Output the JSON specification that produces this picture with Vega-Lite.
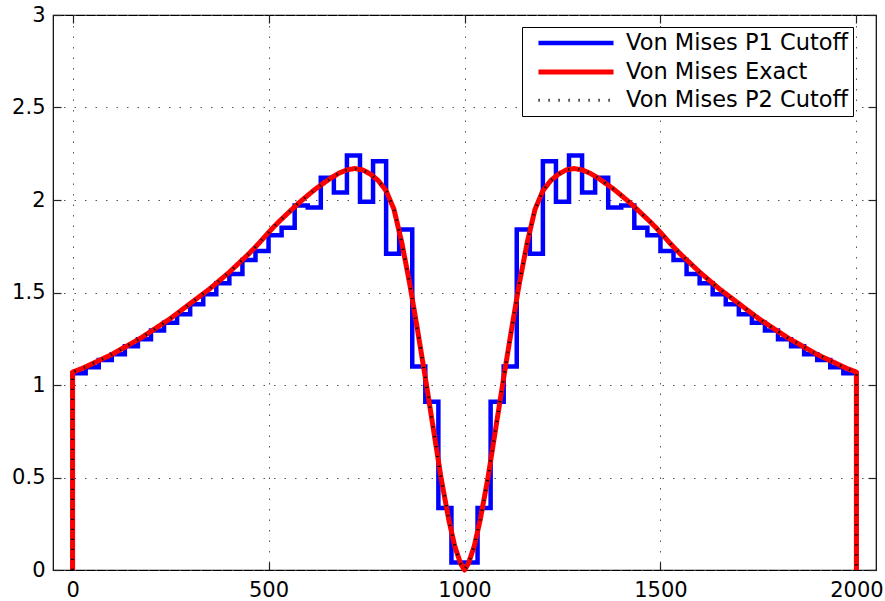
{
  "$schema": "https://vega.github.io/schema/vega-lite/v6.json",
  "width": 823,
  "height": 555,
  "autosize": {"type": "none"},
  "padding": {"left": 53, "top": 15, "right": 9, "bottom": 31},
  "background": "white",
  "config": {
    "view": {"stroke": "black", "strokeWidth": 1.2},
    "font": "DejaVu Sans",
    "axis": {
      "labelFont": "DejaVu Sans",
      "labelFontSize": 21,
      "labelColor": "black",
      "tickColor": "#222",
      "tickSize": -8,
      "tickWidth": 1.2,
      "domain": false,
      "gridColor": "#555",
      "gridDash": [1.5, 9],
      "gridWidth": 1,
      "gridOpacity": 1,
      "title": null
    },
    "legend": {
      "orient": "none",
      "legendX": 469,
      "legendY": 12,
      "strokeColor": "black",
      "fillColor": "white",
      "padding": 4,
      "symbolType": "M-4,0H4",
      "symbolSize": 352,
      "symbolOffset": 38,
      "labelFontSize": 22.5,
      "labelFont": "DejaVu Sans",
      "labelColor": "black",
      "labelOffset": 38,
      "labelLimit": 400,
      "rowPadding": 5
    }
  },
  "datasets": {
    "p1": [
      {"i": 0, "x": 0, "v": 0, "series": "Von Mises P1 Cutoff"},
      {"i": 1, "x": 0, "v": 1.063, "series": "Von Mises P1 Cutoff"},
      {"i": 2, "x": 33.33, "v": 1.096, "series": "Von Mises P1 Cutoff"},
      {"i": 3, "x": 66.67, "v": 1.135, "series": "Von Mises P1 Cutoff"},
      {"i": 4, "x": 100, "v": 1.166, "series": "Von Mises P1 Cutoff"},
      {"i": 5, "x": 133.33, "v": 1.21, "series": "Von Mises P1 Cutoff"},
      {"i": 6, "x": 166.67, "v": 1.247, "series": "Von Mises P1 Cutoff"},
      {"i": 7, "x": 200, "v": 1.294, "series": "Von Mises P1 Cutoff"},
      {"i": 8, "x": 233.33, "v": 1.337, "series": "Von Mises P1 Cutoff"},
      {"i": 9, "x": 266.67, "v": 1.382, "series": "Von Mises P1 Cutoff"},
      {"i": 10, "x": 300, "v": 1.436, "series": "Von Mises P1 Cutoff"},
      {"i": 11, "x": 333.33, "v": 1.49, "series": "Von Mises P1 Cutoff"},
      {"i": 12, "x": 366.67, "v": 1.55, "series": "Von Mises P1 Cutoff"},
      {"i": 13, "x": 400, "v": 1.6, "series": "Von Mises P1 Cutoff"},
      {"i": 14, "x": 433.33, "v": 1.676, "series": "Von Mises P1 Cutoff"},
      {"i": 15, "x": 466.67, "v": 1.724, "series": "Von Mises P1 Cutoff"},
      {"i": 16, "x": 500, "v": 1.81, "series": "Von Mises P1 Cutoff"},
      {"i": 17, "x": 533.33, "v": 1.85, "series": "Von Mises P1 Cutoff"},
      {"i": 18, "x": 566.67, "v": 1.97, "series": "Von Mises P1 Cutoff"},
      {"i": 19, "x": 600, "v": 1.96, "series": "Von Mises P1 Cutoff"},
      {"i": 20, "x": 633.33, "v": 2.12, "series": "Von Mises P1 Cutoff"},
      {"i": 21, "x": 666.67, "v": 2.04, "series": "Von Mises P1 Cutoff"},
      {"i": 22, "x": 700, "v": 2.24, "series": "Von Mises P1 Cutoff"},
      {"i": 23, "x": 733.33, "v": 1.99, "series": "Von Mises P1 Cutoff"},
      {"i": 24, "x": 766.67, "v": 2.21, "series": "Von Mises P1 Cutoff"},
      {"i": 25, "x": 800, "v": 1.71, "series": "Von Mises P1 Cutoff"},
      {"i": 26, "x": 833.33, "v": 1.84, "series": "Von Mises P1 Cutoff"},
      {"i": 27, "x": 866.67, "v": 1.1, "series": "Von Mises P1 Cutoff"},
      {"i": 28, "x": 900, "v": 0.91, "series": "Von Mises P1 Cutoff"},
      {"i": 29, "x": 933.33, "v": 0.335, "series": "Von Mises P1 Cutoff"},
      {"i": 30, "x": 966.67, "v": 0.04, "series": "Von Mises P1 Cutoff"},
      {"i": 31, "x": 1000, "v": 0.04, "series": "Von Mises P1 Cutoff"},
      {"i": 32, "x": 1033.33, "v": 0.335, "series": "Von Mises P1 Cutoff"},
      {"i": 33, "x": 1066.67, "v": 0.91, "series": "Von Mises P1 Cutoff"},
      {"i": 34, "x": 1100, "v": 1.1, "series": "Von Mises P1 Cutoff"},
      {"i": 35, "x": 1133.33, "v": 1.84, "series": "Von Mises P1 Cutoff"},
      {"i": 36, "x": 1166.67, "v": 1.71, "series": "Von Mises P1 Cutoff"},
      {"i": 37, "x": 1200, "v": 2.21, "series": "Von Mises P1 Cutoff"},
      {"i": 38, "x": 1233.33, "v": 1.99, "series": "Von Mises P1 Cutoff"},
      {"i": 39, "x": 1266.67, "v": 2.24, "series": "Von Mises P1 Cutoff"},
      {"i": 40, "x": 1300, "v": 2.04, "series": "Von Mises P1 Cutoff"},
      {"i": 41, "x": 1333.33, "v": 2.12, "series": "Von Mises P1 Cutoff"},
      {"i": 42, "x": 1366.67, "v": 1.96, "series": "Von Mises P1 Cutoff"},
      {"i": 43, "x": 1400, "v": 1.97, "series": "Von Mises P1 Cutoff"},
      {"i": 44, "x": 1433.33, "v": 1.85, "series": "Von Mises P1 Cutoff"},
      {"i": 45, "x": 1466.67, "v": 1.81, "series": "Von Mises P1 Cutoff"},
      {"i": 46, "x": 1500, "v": 1.724, "series": "Von Mises P1 Cutoff"},
      {"i": 47, "x": 1533.33, "v": 1.676, "series": "Von Mises P1 Cutoff"},
      {"i": 48, "x": 1566.67, "v": 1.6, "series": "Von Mises P1 Cutoff"},
      {"i": 49, "x": 1600, "v": 1.55, "series": "Von Mises P1 Cutoff"},
      {"i": 50, "x": 1633.33, "v": 1.49, "series": "Von Mises P1 Cutoff"},
      {"i": 51, "x": 1666.67, "v": 1.436, "series": "Von Mises P1 Cutoff"},
      {"i": 52, "x": 1700, "v": 1.382, "series": "Von Mises P1 Cutoff"},
      {"i": 53, "x": 1733.33, "v": 1.337, "series": "Von Mises P1 Cutoff"},
      {"i": 54, "x": 1766.67, "v": 1.294, "series": "Von Mises P1 Cutoff"},
      {"i": 55, "x": 1800, "v": 1.247, "series": "Von Mises P1 Cutoff"},
      {"i": 56, "x": 1833.33, "v": 1.21, "series": "Von Mises P1 Cutoff"},
      {"i": 57, "x": 1866.67, "v": 1.166, "series": "Von Mises P1 Cutoff"},
      {"i": 58, "x": 1900, "v": 1.135, "series": "Von Mises P1 Cutoff"},
      {"i": 59, "x": 1933.33, "v": 1.096, "series": "Von Mises P1 Cutoff"},
      {"i": 60, "x": 1966.67, "v": 1.063, "series": "Von Mises P1 Cutoff"},
      {"i": 61, "x": 2000, "v": 1.063, "series": "Von Mises P1 Cutoff"},
      {"i": 62, "x": 2000, "v": 0, "series": "Von Mises P1 Cutoff"}
    ],
    "exact": [
      {"i": 0, "x": 0, "Von Mises Exact": 0, "Von Mises P2 Cutoff": 0},
      {"i": 1, "x": 0, "Von Mises Exact": 1.07, "Von Mises P2 Cutoff": 1.07},
      {"i": 2, "x": 25, "Von Mises Exact": 1.09, "Von Mises P2 Cutoff": 1.09},
      {"i": 3, "x": 50, "Von Mises Exact": 1.115, "Von Mises P2 Cutoff": 1.115},
      {"i": 4, "x": 75, "Von Mises Exact": 1.14, "Von Mises P2 Cutoff": 1.14},
      {"i": 5, "x": 100, "Von Mises Exact": 1.165, "Von Mises P2 Cutoff": 1.165},
      {"i": 6, "x": 125, "Von Mises Exact": 1.195, "Von Mises P2 Cutoff": 1.195},
      {"i": 7, "x": 150, "Von Mises Exact": 1.225, "Von Mises P2 Cutoff": 1.225},
      {"i": 8, "x": 175, "Von Mises Exact": 1.255, "Von Mises P2 Cutoff": 1.255},
      {"i": 9, "x": 200, "Von Mises Exact": 1.29, "Von Mises P2 Cutoff": 1.29},
      {"i": 10, "x": 225, "Von Mises Exact": 1.325, "Von Mises P2 Cutoff": 1.325},
      {"i": 11, "x": 250, "Von Mises Exact": 1.36, "Von Mises P2 Cutoff": 1.36},
      {"i": 12, "x": 275, "Von Mises Exact": 1.4, "Von Mises P2 Cutoff": 1.4},
      {"i": 13, "x": 300, "Von Mises Exact": 1.44, "Von Mises P2 Cutoff": 1.44},
      {"i": 14, "x": 325, "Von Mises Exact": 1.48, "Von Mises P2 Cutoff": 1.48},
      {"i": 15, "x": 350, "Von Mises Exact": 1.52, "Von Mises P2 Cutoff": 1.52},
      {"i": 16, "x": 375, "Von Mises Exact": 1.565, "Von Mises P2 Cutoff": 1.565},
      {"i": 17, "x": 400, "Von Mises Exact": 1.61, "Von Mises P2 Cutoff": 1.61},
      {"i": 18, "x": 425, "Von Mises Exact": 1.66, "Von Mises P2 Cutoff": 1.66},
      {"i": 19, "x": 450, "Von Mises Exact": 1.71, "Von Mises P2 Cutoff": 1.71},
      {"i": 20, "x": 475, "Von Mises Exact": 1.765, "Von Mises P2 Cutoff": 1.765},
      {"i": 21, "x": 500, "Von Mises Exact": 1.825, "Von Mises P2 Cutoff": 1.825},
      {"i": 22, "x": 525, "Von Mises Exact": 1.88, "Von Mises P2 Cutoff": 1.88},
      {"i": 23, "x": 550, "Von Mises Exact": 1.93, "Von Mises P2 Cutoff": 1.93},
      {"i": 24, "x": 575, "Von Mises Exact": 1.98, "Von Mises P2 Cutoff": 1.98},
      {"i": 25, "x": 600, "Von Mises Exact": 2.025, "Von Mises P2 Cutoff": 2.025},
      {"i": 26, "x": 620, "Von Mises Exact": 2.06, "Von Mises P2 Cutoff": 2.06},
      {"i": 27, "x": 640, "Von Mises Exact": 2.09, "Von Mises P2 Cutoff": 2.09},
      {"i": 28, "x": 660, "Von Mises Exact": 2.12, "Von Mises P2 Cutoff": 2.12},
      {"i": 29, "x": 680, "Von Mises Exact": 2.145, "Von Mises P2 Cutoff": 2.145},
      {"i": 30, "x": 700, "Von Mises Exact": 2.163, "Von Mises P2 Cutoff": 2.163},
      {"i": 31, "x": 720, "Von Mises Exact": 2.17, "Von Mises P2 Cutoff": 2.17},
      {"i": 32, "x": 740, "Von Mises Exact": 2.163, "Von Mises P2 Cutoff": 2.163},
      {"i": 33, "x": 760, "Von Mises Exact": 2.14, "Von Mises P2 Cutoff": 2.14},
      {"i": 34, "x": 780, "Von Mises Exact": 2.105, "Von Mises P2 Cutoff": 2.105},
      {"i": 35, "x": 800, "Von Mises Exact": 2.05, "Von Mises P2 Cutoff": 2.05},
      {"i": 36, "x": 820, "Von Mises Exact": 1.95, "Von Mises P2 Cutoff": 1.95},
      {"i": 37, "x": 840, "Von Mises Exact": 1.77, "Von Mises P2 Cutoff": 1.77},
      {"i": 38, "x": 860, "Von Mises Exact": 1.55, "Von Mises P2 Cutoff": 1.55},
      {"i": 39, "x": 880, "Von Mises Exact": 1.3, "Von Mises P2 Cutoff": 1.3},
      {"i": 40, "x": 900, "Von Mises Exact": 1.04, "Von Mises P2 Cutoff": 1.04},
      {"i": 41, "x": 920, "Von Mises Exact": 0.77, "Von Mises P2 Cutoff": 0.77},
      {"i": 42, "x": 940, "Von Mises Exact": 0.5, "Von Mises P2 Cutoff": 0.5},
      {"i": 43, "x": 960, "Von Mises Exact": 0.27, "Von Mises P2 Cutoff": 0.27},
      {"i": 44, "x": 975, "Von Mises Exact": 0.13, "Von Mises P2 Cutoff": 0.13},
      {"i": 45, "x": 990, "Von Mises Exact": 0.035, "Von Mises P2 Cutoff": 0.035},
      {"i": 46, "x": 1000, "Von Mises Exact": 0, "Von Mises P2 Cutoff": 0},
      {"i": 47, "x": 1010, "Von Mises Exact": 0.035, "Von Mises P2 Cutoff": 0.035},
      {"i": 48, "x": 1025, "Von Mises Exact": 0.13, "Von Mises P2 Cutoff": 0.13},
      {"i": 49, "x": 1040, "Von Mises Exact": 0.27, "Von Mises P2 Cutoff": 0.27},
      {"i": 50, "x": 1060, "Von Mises Exact": 0.5, "Von Mises P2 Cutoff": 0.5},
      {"i": 51, "x": 1080, "Von Mises Exact": 0.77, "Von Mises P2 Cutoff": 0.77},
      {"i": 52, "x": 1100, "Von Mises Exact": 1.04, "Von Mises P2 Cutoff": 1.04},
      {"i": 53, "x": 1120, "Von Mises Exact": 1.3, "Von Mises P2 Cutoff": 1.3},
      {"i": 54, "x": 1140, "Von Mises Exact": 1.55, "Von Mises P2 Cutoff": 1.55},
      {"i": 55, "x": 1160, "Von Mises Exact": 1.77, "Von Mises P2 Cutoff": 1.77},
      {"i": 56, "x": 1180, "Von Mises Exact": 1.95, "Von Mises P2 Cutoff": 1.95},
      {"i": 57, "x": 1200, "Von Mises Exact": 2.05, "Von Mises P2 Cutoff": 2.05},
      {"i": 58, "x": 1220, "Von Mises Exact": 2.105, "Von Mises P2 Cutoff": 2.105},
      {"i": 59, "x": 1240, "Von Mises Exact": 2.14, "Von Mises P2 Cutoff": 2.14},
      {"i": 60, "x": 1260, "Von Mises Exact": 2.163, "Von Mises P2 Cutoff": 2.163},
      {"i": 61, "x": 1280, "Von Mises Exact": 2.17, "Von Mises P2 Cutoff": 2.17},
      {"i": 62, "x": 1300, "Von Mises Exact": 2.163, "Von Mises P2 Cutoff": 2.163},
      {"i": 63, "x": 1320, "Von Mises Exact": 2.145, "Von Mises P2 Cutoff": 2.145},
      {"i": 64, "x": 1340, "Von Mises Exact": 2.12, "Von Mises P2 Cutoff": 2.12},
      {"i": 65, "x": 1360, "Von Mises Exact": 2.09, "Von Mises P2 Cutoff": 2.09},
      {"i": 66, "x": 1380, "Von Mises Exact": 2.06, "Von Mises P2 Cutoff": 2.06},
      {"i": 67, "x": 1400, "Von Mises Exact": 2.025, "Von Mises P2 Cutoff": 2.025},
      {"i": 68, "x": 1425, "Von Mises Exact": 1.98, "Von Mises P2 Cutoff": 1.98},
      {"i": 69, "x": 1450, "Von Mises Exact": 1.93, "Von Mises P2 Cutoff": 1.93},
      {"i": 70, "x": 1475, "Von Mises Exact": 1.88, "Von Mises P2 Cutoff": 1.88},
      {"i": 71, "x": 1500, "Von Mises Exact": 1.825, "Von Mises P2 Cutoff": 1.825},
      {"i": 72, "x": 1525, "Von Mises Exact": 1.765, "Von Mises P2 Cutoff": 1.765},
      {"i": 73, "x": 1550, "Von Mises Exact": 1.71, "Von Mises P2 Cutoff": 1.71},
      {"i": 74, "x": 1575, "Von Mises Exact": 1.66, "Von Mises P2 Cutoff": 1.66},
      {"i": 75, "x": 1600, "Von Mises Exact": 1.61, "Von Mises P2 Cutoff": 1.61},
      {"i": 76, "x": 1625, "Von Mises Exact": 1.565, "Von Mises P2 Cutoff": 1.565},
      {"i": 77, "x": 1650, "Von Mises Exact": 1.52, "Von Mises P2 Cutoff": 1.52},
      {"i": 78, "x": 1675, "Von Mises Exact": 1.48, "Von Mises P2 Cutoff": 1.48},
      {"i": 79, "x": 1700, "Von Mises Exact": 1.44, "Von Mises P2 Cutoff": 1.44},
      {"i": 80, "x": 1725, "Von Mises Exact": 1.4, "Von Mises P2 Cutoff": 1.4},
      {"i": 81, "x": 1750, "Von Mises Exact": 1.36, "Von Mises P2 Cutoff": 1.36},
      {"i": 82, "x": 1775, "Von Mises Exact": 1.325, "Von Mises P2 Cutoff": 1.325},
      {"i": 83, "x": 1800, "Von Mises Exact": 1.29, "Von Mises P2 Cutoff": 1.29},
      {"i": 84, "x": 1825, "Von Mises Exact": 1.255, "Von Mises P2 Cutoff": 1.255},
      {"i": 85, "x": 1850, "Von Mises Exact": 1.225, "Von Mises P2 Cutoff": 1.225},
      {"i": 86, "x": 1875, "Von Mises Exact": 1.195, "Von Mises P2 Cutoff": 1.195},
      {"i": 87, "x": 1900, "Von Mises Exact": 1.165, "Von Mises P2 Cutoff": 1.165},
      {"i": 88, "x": 1925, "Von Mises Exact": 1.14, "Von Mises P2 Cutoff": 1.14},
      {"i": 89, "x": 1950, "Von Mises Exact": 1.115, "Von Mises P2 Cutoff": 1.115},
      {"i": 90, "x": 1975, "Von Mises Exact": 1.09, "Von Mises P2 Cutoff": 1.09},
      {"i": 91, "x": 2000, "Von Mises Exact": 1.07, "Von Mises P2 Cutoff": 1.07},
      {"i": 92, "x": 2000, "Von Mises Exact": 0, "Von Mises P2 Cutoff": 0}
    ]
  },
  "encoding": {
    "x": {
      "field": "x",
      "type": "quantitative",
      "scale": {"domain": [-50, 2050], "nice": false, "zero": false},
      "axis": {"values": [0, 500, 1000, 1500, 2000], "format": "d", "labelPadding": 17, "grid": true}
    },
    "y": {
      "field": "v",
      "type": "quantitative",
      "scale": {"domain": [0, 3], "nice": false},
      "axis": {"values": [0, 0.5, 1, 1.5, 2, 2.5, 3], "format": "~g", "labelPadding": 16, "grid": true}
    },
    "color": {
      "field": "series",
      "type": "nominal",
      "scale": {"domain": ["Von Mises P1 Cutoff", "Von Mises Exact", "Von Mises P2 Cutoff"], "range": ["#0000ff", "#ff0000", "#000000"]},
      "legend": {"title": null}
    },
    "strokeDash": {
      "field": "series",
      "type": "nominal",
      "scale": {"domain": ["Von Mises P1 Cutoff", "Von Mises Exact", "Von Mises P2 Cutoff"], "range": [[1, 0], [1, 0], [1.2, 8.8]]},
      "legend": {"title": null}
    },
    "strokeWidth": {
      "field": "series",
      "type": "ordinal",
      "scale": {"type": "ordinal", "domain": ["Von Mises P1 Cutoff", "Von Mises Exact", "Von Mises P2 Cutoff"], "range": [4.5, 5, 3]},
      "legend": {"title": null}
    },
    "order": {"field": "i", "type": "quantitative"}
  },
  "layer": [
    {
      "data": {"name": "p1"},
      "mark": {"type": "line", "interpolate": "step-after", "strokeCap": "butt", "strokeJoin": "miter"}
    },
    {
      "data": {"name": "exact"},
      "transform": [{"fold": ["Von Mises Exact"], "as": ["series", "v"]}],
      "mark": {"type": "line", "strokeCap": "butt", "strokeJoin": "round"},
      "encoding": {
        "x": {"field": "x", "type": "quantitative", "axis": null},
        "y": {"field": "v", "type": "quantitative", "axis": null}
      }
    },
    {
      "data": {"name": "exact"},
      "transform": [{"fold": ["Von Mises P2 Cutoff"], "as": ["series", "v"]}],
      "mark": {"type": "line", "strokeCap": "butt"},
      "encoding": {
        "x": {"field": "x", "type": "quantitative", "axis": {"orient": "top", "values": [0, 500, 1000, 1500, 2000], "labels": false, "grid": false}},
        "y": {"field": "v", "type": "quantitative", "axis": {"orient": "right", "values": [0, 0.5, 1, 1.5, 2, 2.5, 3], "labels": false, "grid": false}}
      }
    }
  ],
  "resolve": {"axis": {"x": "independent", "y": "independent"}}
}
